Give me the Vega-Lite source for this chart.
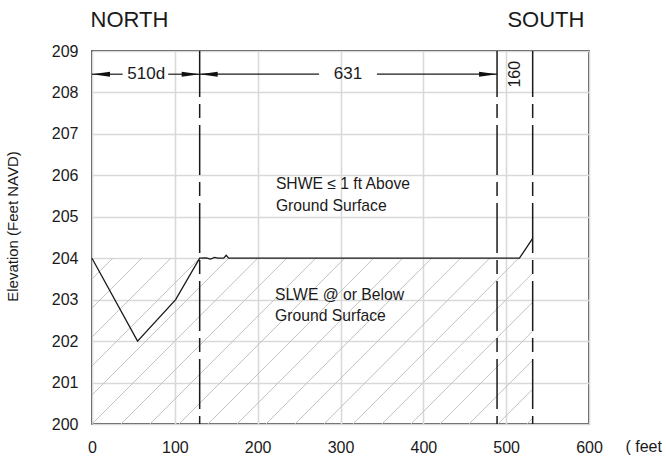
{
  "$schema": "https://vega.github.io/schema/vega-lite/v6.json",
  "width": 497,
  "height": 373,
  "autosize": {"type": "none"},
  "padding": {"left": 92, "top": 51, "right": 77, "bottom": 34},
  "background": "white",
  "usermeta": {"embedOptions": {"actions": false}},
  "config": {
    "font": "Liberation Sans",
    "view": {"stroke": "#1a1a1a", "strokeWidth": 1.6},
    "axis": {
      "domain": false,
      "ticks": false,
      "tickSize": 0,
      "grid": true,
      "gridColor": "#d9d9d9",
      "gridWidth": 1.6,
      "labelFont": "Liberation Sans",
      "labelFontSize": 16,
      "labelColor": "#1a1a1a",
      "labelFlush": false,
      "labelOverlap": false,
      "labelBound": false,
      "titleFont": "Liberation Sans",
      "titleFontWeight": "normal",
      "titleColor": "#1a1a1a"
    }
  },
  "datasets": {
    "profile": [
      {"d": 0, "e": 204},
      {"d": 55, "e": 202},
      {"d": 101, "e": 203},
      {"d": 130, "e": 204},
      {"d": 138, "e": 204.01},
      {"d": 143, "e": 203.98},
      {"d": 148, "e": 204.02},
      {"d": 152, "e": 204.0},
      {"d": 159, "e": 204.0},
      {"d": 162, "e": 204.07},
      {"d": 165, "e": 204.0},
      {"d": 516, "e": 204},
      {"d": 532, "e": 204.48}
    ],
    "hatch": [
      {"d": 0, "e": 203.5, "d2": 25, "e2": 204},
      {"d": 0, "e": 202.8, "d2": 60, "e2": 204},
      {"d": 0, "e": 202.1, "d2": 95, "e2": 204},
      {"d": 0, "e": 201.4, "d2": 130, "e2": 204},
      {"d": 0, "e": 200.7, "d2": 165, "e2": 204},
      {"d": 0, "e": 200, "d2": 200, "e2": 204},
      {"d": 35, "e": 200, "d2": 235, "e2": 204},
      {"d": 70, "e": 200, "d2": 270, "e2": 204},
      {"d": 105, "e": 200, "d2": 305, "e2": 204},
      {"d": 140, "e": 200, "d2": 340, "e2": 204},
      {"d": 175, "e": 200, "d2": 375, "e2": 204},
      {"d": 210, "e": 200, "d2": 410, "e2": 204},
      {"d": 245, "e": 200, "d2": 445, "e2": 204},
      {"d": 280, "e": 200, "d2": 480, "e2": 204},
      {"d": 315, "e": 200, "d2": 515, "e2": 204},
      {"d": 350, "e": 200, "d2": 532, "e2": 203.64},
      {"d": 385, "e": 200, "d2": 532, "e2": 202.94},
      {"d": 420, "e": 200, "d2": 532, "e2": 202.24},
      {"d": 455, "e": 200, "d2": 532, "e2": 201.54},
      {"d": 490, "e": 200, "d2": 532, "e2": 200.84},
      {"d": 525, "e": 200, "d2": 532, "e2": 200.14}
    ],
    "dividers": [
      {"d": 130, "e": 209, "e2": 200},
      {"d": 489, "e": 209, "e2": 200},
      {"d": 532, "e": 209, "e2": 200}
    ],
    "dimLines": [
      {"d": 0, "d2": 37, "e": 208.44},
      {"d": 92, "d2": 130, "e": 208.44},
      {"d": 130, "d2": 274, "e": 208.44},
      {"d": 344, "d2": 489, "e": 208.44}
    ],
    "arrows": [
      {"d": 0, "e": 208.44, "dir": "left"},
      {"d": 130, "e": 208.44, "dir": "right"},
      {"d": 130, "e": 208.44, "dir": "left"},
      {"d": 489, "e": 208.44, "dir": "right"}
    ],
    "dimText": [
      {"d": 65.5, "e": 208.44, "t": "510d"},
      {"d": 309, "e": 208.44, "t": "631"}
    ],
    "notes": [
      {"d": 222, "e": 205.66, "t": "SHWE ≤ 1 ft Above"},
      {"d": 222, "e": 205.15, "t": "Ground Surface"},
      {"d": 221, "e": 203.0, "t": "SLWE @ or Below"},
      {"d": 221, "e": 202.49, "t": "Ground Surface"}
    ]
  },
  "encoding": {
    "x": {
      "field": "d",
      "type": "quantitative",
      "scale": {"domain": [0, 600], "nice": false, "zero": false},
      "axis": {
        "values": [0, 100, 200, 300, 400, 500, 600],
        "labelPadding": 15,
        "title": "( feet",
        "titleFontSize": 16,
        "titleAlign": "left",
        "titleBaseline": "alphabetic",
        "titleX": 533,
        "titleY": 27.4
      }
    },
    "y": {
      "field": "e",
      "type": "quantitative",
      "scale": {"domain": [200, 209], "nice": false, "zero": false},
      "axis": {
        "values": [200, 201, 202, 203, 204, 205, 206, 207, 208, 209],
        "labelPadding": 14,
        "title": "Elevation (Feet NAVD)",
        "titleFontSize": 15,
        "titleAngle": 270,
        "titleAlign": "center",
        "titleBaseline": "middle",
        "titleX": -80,
        "titleY": 175
      }
    }
  },
  "layer": [
    {
      "data": {"name": "hatch"},
      "mark": {"type": "rule", "color": "#c2c2c2", "strokeWidth": 1},
      "encoding": {
        "x2": {"field": "d2"},
        "y2": {"field": "e2"}
      }
    },
    {
      "data": {"name": "profile"},
      "mark": {"type": "line", "color": "#1a1a1a", "strokeWidth": 1.3, "interpolate": "linear"}
    },
    {
      "data": {"name": "dividers"},
      "mark": {"type": "rule", "color": "#1a1a1a", "strokeWidth": 1.5, "strokeDash": [50, 7, 14, 7], "strokeDashOffset": 4},
      "encoding": {
        "y2": {"field": "e2"}
      }
    },
    {
      "data": {"name": "dimLines"},
      "mark": {"type": "rule", "color": "#1a1a1a", "strokeWidth": 1.2},
      "encoding": {
        "x2": {"field": "d2"}
      }
    },
    {
      "data": {"name": "arrows"},
      "mark": {"type": "point", "filled": true, "size": 324, "color": "#111111", "opacity": 1, "strokeWidth": 0},
      "encoding": {
        "shape": {
          "field": "dir",
          "type": "nominal",
          "scale": {"domain": ["left", "right"], "range": ["M0,0L2,-0.27L2,0.27Z", "M0,0L-2,-0.27L-2,0.27Z"]},
          "legend": null
        }
      }
    },
    {
      "data": {"name": "dimText"},
      "mark": {"type": "text", "fontSize": 17, "align": "center", "baseline": "middle", "color": "#1a1a1a"},
      "encoding": {
        "text": {"field": "t"}
      }
    },
    {
      "data": {"values": [{"d": 510.7, "e": 208.44, "t": "160"}]},
      "mark": {"type": "text", "fontSize": 16, "align": "center", "baseline": "middle", "angle": 270, "color": "#1a1a1a"},
      "encoding": {
        "text": {"field": "t"}
      }
    },
    {
      "data": {"name": "notes"},
      "mark": {"type": "text", "fontSize": 15.7, "align": "left", "baseline": "alphabetic", "color": "#1a1a1a"},
      "encoding": {
        "text": {"field": "t"}
      }
    },
    {
      "data": {"values": [
        {"d": 45.3, "e": 209.59, "t": "NORTH"},
        {"d": 548, "e": 209.59, "t": "SOUTH"}
      ]},
      "mark": {"type": "text", "fontSize": 22, "align": "center", "baseline": "alphabetic", "color": "#1a1a1a"},
      "encoding": {
        "text": {"field": "t"}
      }
    }
  ]
}
